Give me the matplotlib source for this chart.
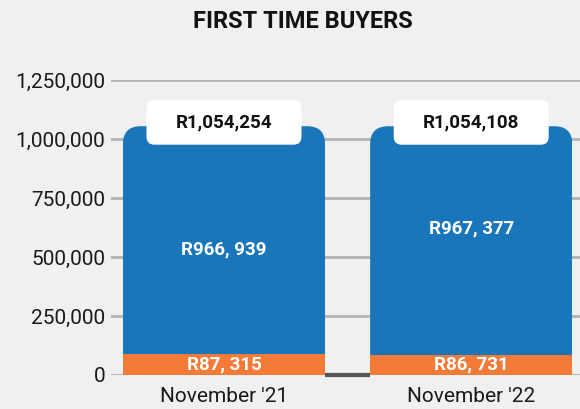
import matplotlib
matplotlib.use("Agg")
import matplotlib.pyplot as plt
from matplotlib.patches import FancyBboxPatch
from matplotlib.transforms import IdentityTransform
from matplotlib.ticker import FuncFormatter

categories = ["November '21", "November '22"]
orange_vals = [87315, 86731]
blue_vals = [966939, 967377]
totals = [1054254, 1054108]
orange_labels = ["R87, 315", "R86, 731"]
blue_labels = ["R966, 939", "R967, 377"]
total_labels = ["R1,054,254", "R1,054,108"]
yticks = [0, 250000, 500000, 750000, 1000000, 1250000]

BG = "#f0f0f0"
BLUE = "#1a76bb"
ORANGE = "#f47a38"
FONT = "Roboto"

DPI = 100
fig = plt.figure(figsize=(5.8, 4.09), dpi=DPI, facecolor=BG)
ax = fig.add_axes([111/580, (409-375)/409, 1-111/580, (375-80)/409])
ax.set_facecolor(BG)

x = list(range(len(categories)))
width = 0.818
ax.set_xlim(-0.457, 1.44)
ax.set_ylim(0, 1250000)

ax.set_yticks(yticks)
ax.yaxis.set_major_formatter(FuncFormatter(lambda v, p: f"{int(v):,}"))
ax.grid(axis="y", color="#b3b3b3", linewidth=2, zorder=0)
ax.set_axisbelow(True)
for s in ["top", "right", "left", "bottom"]:
    ax.spines[s].set_visible(False)
ax.hlines(0, x[0] + width/2, x[1] - width/2, color="#555555", linewidth=3,
          zorder=1, clip_on=False)
ax.tick_params(axis="y", length=0, pad=4, labelsize=15, labelcolor="#1a1a1a")
ax.tick_params(axis="x", length=0, pad=9, labelsize=15, labelcolor="#1a1a1a")
ax.set_xticks(x)
ax.set_xticklabels(categories)
for lab in ax.get_xticklabels() + ax.get_yticklabels():
    lab.set_fontfamily(FONT)

ob = ax.bar(x, orange_vals, width=width, color=ORANGE, zorder=3)
bb = ax.bar(x, blue_vals, width=width, bottom=orange_vals, color=BLUE, zorder=2)

fig.canvas.draw()
R = 18
for rect in bb:
    ext = rect.get_window_extent()
    clip = FancyBboxPatch((ext.x0, ext.y0 - 40), ext.width, ext.height + 40,
                          boxstyle=f"round,pad=0,rounding_size={R}",
                          transform=IdentityTransform(), facecolor="none",
                          edgecolor="none")
    rect.set_clip_path(clip)

# total labels in white rounded boxes
bw, bh = 155, 45
for xi, tot, lab in zip(x, totals, total_labels):
    cx, cy = ax.transData.transform((xi, tot))
    cy += 4
    box = FancyBboxPatch((cx - bw/2, cy - bh/2), bw, bh,
                         boxstyle="round,pad=0,rounding_size=8",
                         transform=IdentityTransform(), facecolor="white",
                         edgecolor="none", zorder=5)
    fig.patches.append(box)
    box.set_figure(fig)
    fig.text(cx / fig.bbox.width, cy / fig.bbox.height, lab, ha="center",
             va="center", fontsize=13.5, fontweight="bold", color="#111111",
             family=FONT, zorder=6)

blue_label_y = [530000, 619000]
for xi, lab, yy in zip(x, blue_labels, blue_label_y):
    ax.text(xi, yy, lab, ha="center", va="center", color="white",
            fontsize=13.5, fontweight="bold", family=FONT, zorder=4)
for xi, v, lab in zip(x, orange_vals, orange_labels):
    ax.text(xi, v / 2, lab, ha="center", va="center", color="white",
            fontsize=13.5, fontweight="bold", family=FONT, zorder=4)

fig.text(303/580, 1 - 22/409, "FIRST TIME BUYERS", ha="center", va="center",
         fontsize=17, fontweight="bold", color="#111111", family=FONT)

fig.savefig("out.png", dpi=DPI, facecolor=BG)
